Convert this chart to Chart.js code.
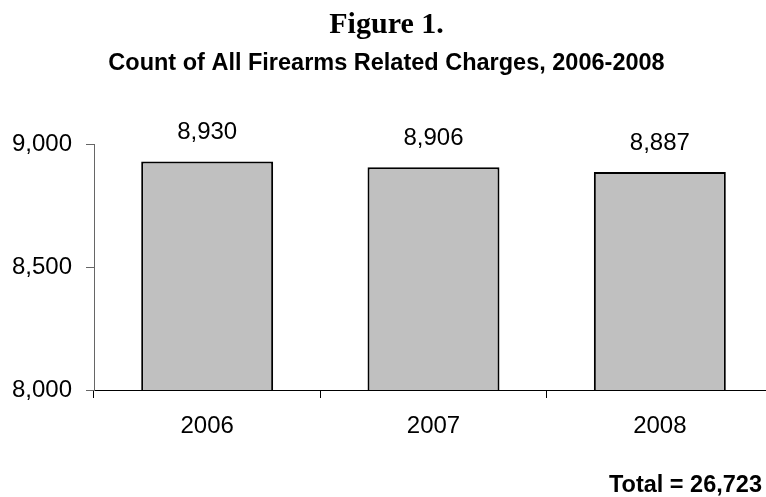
<!DOCTYPE html>
<html>
<head>
<meta charset="utf-8">
<script src="https://cdn.jsdelivr.net/npm/chart.js@4/dist/chart.umd.min.js"></script>
<style>
  html, body { margin: 0; padding: 0; background: #fff; overflow: hidden; }
  #wrap { position: relative; width: 766px; height: 497px; overflow: hidden; }
  #chart { display: block; }
</style>
</head>
<body>
<div id="wrap"><canvas id="chart" width="780" height="497"></canvas></div>
<script>
// Firearms related charges per year
const years = ['2006', '2007', '2008'];
const charges = [8930, 8906, 8887];
const yTickValues = [8000, 8500, 9000];
const totalLabel = 'Total = 26,723';

const fmt = v => Number(v).toLocaleString('en-US');
const SANS = "'Liberation Sans', Arial, sans-serif";
const SERIF = "'Liberation Serif', 'Times New Roman', serif";

// value labels above each bar
const valueLabels = {
  id: 'valueLabels',
  afterDatasetsDraw(chart) {
    const ctx = chart.ctx;
    const meta = chart.getDatasetMeta(0);
    ctx.save();
    ctx.font = '24px ' + SANS;
    ctx.fillStyle = '#000';
    ctx.textAlign = 'center';
    ctx.textBaseline = 'middle';
    meta.data.forEach((bar, i) => {
      ctx.fillText(fmt(chart.data.datasets[0].data[i]), bar.x, bar.y - 29);
    });
    ctx.restore();
  }
};

// total note in the lower right corner
const totalNote = {
  id: 'totalNote',
  afterDraw(chart) {
    const ctx = chart.ctx;
    ctx.save();
    ctx.font = 'bold 23.5px ' + SANS;
    ctx.fillStyle = '#000';
    ctx.textAlign = 'right';
    ctx.textBaseline = 'middle';
    ctx.fillText(totalLabel, 762, 486);
    ctx.restore();
  }
};

new Chart(document.getElementById('chart'), {
  type: 'bar',
  data: {
    labels: years,
    datasets: [{
      data: charges,
      backgroundColor: '#C0C0C0',
      borderColor: '#000',
      borderWidth: 2,
      borderSkipped: false,
      categoryPercentage: 1.0,
      barPercentage: 0.583
    }]
  },
  options: {
    responsive: false,
    animation: false,
    events: [],
    layout: { padding: { top: 0, left: 0, right: 7, bottom: 0 } },
    plugins: {
      legend: { display: false },
      tooltip: { enabled: false },
      title: {
        display: true,
        text: 'Figure 1.',
        color: '#000',
        font: { family: SERIF, size: 30, weight: 'bold', lineHeight: 1.2 },
        padding: { top: 7, bottom: 0 }
      },
      subtitle: {
        display: true,
        text: 'Count of All Firearms Related Charges, 2006-2008',
        color: '#000',
        font: { family: SANS, size: 23.5, weight: 'bold', lineHeight: 1.2 },
        padding: { top: 6, bottom: 67 }
      }
    },
    scales: {
      x: {
        afterFit(scale) { scale.height = 107; },
        grid: {
          display: true,
          offset: true,
          drawOnChartArea: false,
          drawTicks: true,
          tickLength: 8,
          color: '#000'
        },
        border: { display: true, color: '#000', width: 1 },
        ticks: {
          color: '#000',
          padding: 14,
          font: { family: SANS, size: 24 }
        }
      },
      y: {
        min: yTickValues[0],
        max: yTickValues[yTickValues.length - 1],
        afterFit(scale) { scale.width = 94; },
        afterBuildTicks(scale) { scale.ticks = yTickValues.map(v => ({ value: v })); },
        grid: {
          display: true,
          drawOnChartArea: false,
          drawTicks: true,
          tickLength: 8,
          color: '#666'
        },
        border: { display: true, color: '#666', width: 1 },
        ticks: {
          color: '#000',
          padding: 14,
          font: { family: SANS, size: 24 },
          callback: v => fmt(v)
        }
      }
    }
  },
  plugins: [valueLabels, totalNote]
});
</script>
</body>
</html>
